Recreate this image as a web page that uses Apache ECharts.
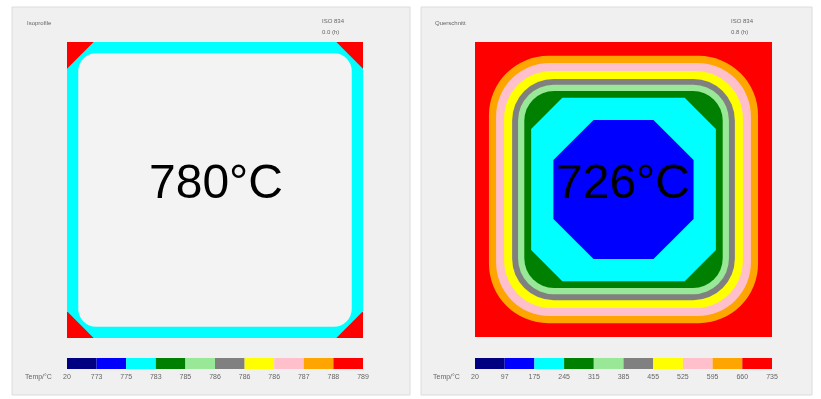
<!DOCTYPE html>
<html>
<head>
<meta charset="utf-8">
<script src="https://cdn.jsdelivr.net/npm/echarts@6/dist/echarts.min.js"></script>
<style>
  html, body { margin: 0; padding: 0; background: #ffffff; }
  #chart { width: 821px; height: 399px; }
</style>
</head>
<body>
<div id="chart"></div>
<script>
var bandColors = ['#000080', '#0000ff', '#00ffff', '#008000', '#98e898', '#808080', '#ffff00', '#ffc0cb', '#ffa500', '#ff0000'];
var leftTicks = ['20', '773', '775', '783', '785', '786', '786', '786', '787', '788', '789'];
var rightTicks = ['20', '97', '175', '245', '315', '385', '455', '525', '595', '660', '735'];

// contour outlines, outer to inner: [inset, corner, kind (0 round, 1 chamfer), colour index or -1 = no colour]
var leftBands = [
    [0, 0, 0, 9],
    [0, 9, 1, 2],
    [3.8, 6, 0, -1]
];
var rightBands = [
    [0, 0, 0, 9],
    [4.7, 20, 0, 8],
    [7.1, 18, 0, 7],
    [9.8, 16, 0, 6],
    [12.5, 14, 0, 5],
    [14.5, 12, 0, 4],
    [16.6, 10, 0, 3],
    [18.9, 10.5, 1, 2],
    [26.4, 13.5, 1, 1]
];
var segments = [0, 1, 2, 3, 4, 5, 6, 7, 8, 9];

var myChart = echarts.init(document.getElementById('chart'));

function bandItem(params, api) {
    var inset = api.value(0);
    var corner = api.size([api.value(1), 0])[0];
    var kind = api.value(2);
    var ci = api.value(3);
    var fill = ci < 0 ? '#f3f3f3' : bandColors[ci];
    var p0 = api.coord([inset, 100 - inset]);
    var p1 = api.coord([100 - inset, inset]);
    var x = p0[0], y = p0[1], w = p1[0] - p0[0], h = p1[1] - p0[1];
    if (kind === 1) {
        var c = corner;
        return {
            type: 'polygon',
            shape: { points: [
                [x + c, y], [x + w - c, y], [x + w, y + c], [x + w, y + h - c],
                [x + w - c, y + h], [x + c, y + h], [x, y + h - c], [x, y + c]
            ], smooth: 0 },
            style: { fill: fill }
        };
    }
    return {
        type: 'rect',
        shape: { x: x, y: y, width: w, height: h, r: corner },
        style: { fill: fill }
    };
}

function segItem(params, api) {
    var i = api.value(0);
    var p0 = api.coord([i, 1]);
    var p1 = api.coord([i + 1, 0]);
    return {
        type: 'rect',
        shape: { x: p0[0], y: p0[1], width: p1[0] - p0[0], height: p1[1] - p0[1] },
        style: { fill: bandColors[api.value(1)] }
    };
}

function hiddenAxis(idx) {
    return { type: 'value', gridIndex: idx, min: 0, max: 100, show: false };
}

function barXAxis(idx, ticks) {
    return {
        type: 'value', gridIndex: idx, min: 0, max: 10, interval: 1,
        axisLine: { show: false }, axisTick: { show: false }, splitLine: { show: false },
        axisLabel: {
            margin: 5, fontSize: 7, color: '#666', fontFamily: 'Liberation Sans',
            formatter: function (v) { return ticks[Math.round(v)]; }
        }
    };
}

var smallText = { fontSize: 6, fill: '#666', fontFamily: 'Liberation Sans' };

var option = {
    animation: false,
    grid: [
        { left: 67, top: 42, width: 296, height: 296 },
        { left: 475, top: 42, width: 297, height: 295 },
        { left: 67, top: 358, width: 296, height: 11 },
        { left: 475, top: 358, width: 297, height: 11 }
    ],
    xAxis: [hiddenAxis(0), hiddenAxis(1), barXAxis(2, leftTicks), barXAxis(3, rightTicks)],
    yAxis: [hiddenAxis(0), hiddenAxis(1),
        { type: 'value', gridIndex: 2, min: 0, max: 1, show: false },
        { type: 'value', gridIndex: 3, min: 0, max: 1, show: false }],
    graphic: [
        { type: 'rect', z: -10, shape: { x: 12, y: 7, width: 398, height: 388 },
          style: { fill: '#f0f0f0', stroke: '#dcdcdc', lineWidth: 1 } },
        { type: 'rect', z: -10, shape: { x: 421, y: 7, width: 391, height: 388 },
          style: { fill: '#f0f0f0', stroke: '#dcdcdc', lineWidth: 1 } },
        { type: 'text', x: 27, y: 20, style: Object.assign({ text: 'Isoprofile' }, smallText) },
        { type: 'text', x: 322, y: 18, style: Object.assign({ text: 'ISO 834' }, smallText) },
        { type: 'text', x: 322, y: 29, style: Object.assign({ text: '0.0 (h)' }, smallText) },
        { type: 'text', x: 435, y: 20, style: Object.assign({ text: 'Querschnitt' }, smallText) },
        { type: 'text', x: 731, y: 18, style: Object.assign({ text: 'ISO 834' }, smallText) },
        { type: 'text', x: 731, y: 29, style: Object.assign({ text: '0.8 (h)' }, smallText) },
        { type: 'text', x: 25, y: 374, style: { text: 'Temp/°C', fontSize: 7, fill: '#666', fontFamily: 'Liberation Sans' } },
        { type: 'text', x: 433, y: 374, style: { text: 'Temp/°C', fontSize: 7, fill: '#666', fontFamily: 'Liberation Sans' } },
        { type: 'text', z: 100, x: 216, y: 185, style: { text: '780°C', fontSize: 48, fill: '#000',
          fontFamily: 'Liberation Sans', align: 'center', verticalAlign: 'middle' } },
        { type: 'text', z: 100, x: 623, y: 185, style: { text: '726°C', fontSize: 48, fill: '#000',
          fontFamily: 'Liberation Sans', align: 'center', verticalAlign: 'middle' } }
    ],
    series: [
        { type: 'custom', xAxisIndex: 0, yAxisIndex: 0, renderItem: bandItem, data: leftBands, silent: true },
        { type: 'custom', xAxisIndex: 1, yAxisIndex: 1, renderItem: bandItem, data: rightBands, silent: true },
        { type: 'custom', xAxisIndex: 2, yAxisIndex: 2, renderItem: segItem,
          data: segments.map(function (s) { return [s, s]; }), silent: true },
        { type: 'custom', xAxisIndex: 3, yAxisIndex: 3, renderItem: segItem,
          data: segments.map(function (s) { return [s, s]; }), silent: true }
    ]
};
myChart.setOption(option);
</script>
</body>
</html>
